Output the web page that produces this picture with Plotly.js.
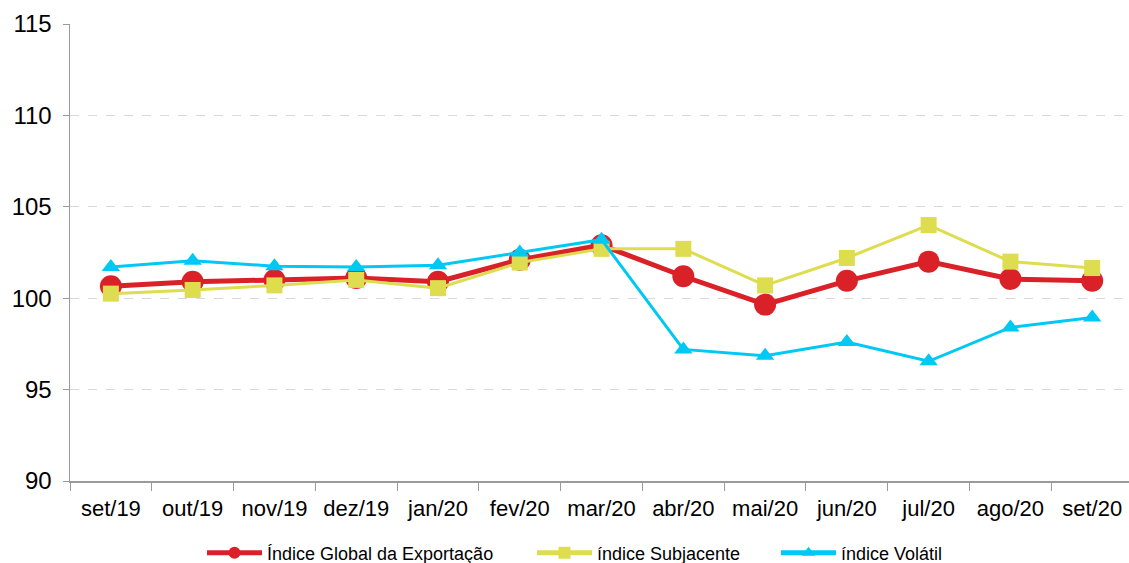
<!DOCTYPE html>
<html>
<head>
<meta charset="utf-8">
<script src="https://cdn.plot.ly/plotly-3.0.1.min.js"></script>
<style>html,body{margin:0;padding:0;background:#fff;}#chart{width:1129px;height:563px;}</style>
</head>
<body>
<div id="chart"></div>
<script>
const categories = ["set/19","out/19","nov/19","dez/19","jan/20","fev/20","mar/20","abr/20","mai/20","jun/20","jul/20","ago/20","set/20"];
const globalIdx = [100.65,100.9,101.0,101.1,100.9,102.1,102.9,101.2,99.65,100.95,102.0,101.05,100.95];
const subjacente = [100.25,100.45,100.7,101.0,100.55,101.95,102.7,102.7,100.7,102.2,104.0,102.0,101.65];
const volatil = [101.7,102.05,101.75,101.7,101.8,102.5,103.2,97.2,96.85,97.6,96.55,98.4,98.95];
const names = ["Índice Global da Exportação","índice Subjacente","índice Volátil"];

const traces = [
  {x: categories, y: globalIdx, name: names[0], type: 'scatter', mode: 'lines+markers', legend: 'legend',
   line: {color: '#DA2128', width: 5}, marker: {symbol: 'circle', size: 22, color: '#DA2128'}},
  {x: categories, y: subjacente, name: names[1], type: 'scatter', mode: 'lines+markers', legend: 'legend2',
   line: {color: '#DDDD4F', width: 3}, marker: {symbol: 'square', size: 16, color: '#DDDD4F'}},
  {x: categories, y: volatil, name: names[2], type: 'scatter', mode: 'lines+markers', legend: 'legend3',
   line: {color: '#00C8F4', width: 3}, marker: {symbol: 'triangle-up', size: 16, color: '#00C8F4'}}
];

function leg(xpx) {
  return {orientation: 'h', x: xpx / 1129, xanchor: 'left', xref: 'container',
          y: 0.0178, yanchor: 'middle', yref: 'container',
          font: {size: 18, color: '#000'}, itemsizing: 'constant', itemwidth: 55,
          bgcolor: 'rgba(0,0,0,0)'};
}

const layout = {
  width: 1129, height: 563,
  margin: {l: 70, r: 0, t: 24, b: 82},
  paper_bgcolor: '#fff', plot_bgcolor: '#fff',
  font: {family: 'Liberation Sans, Arial, sans-serif', color: '#000'},
  showlegend: true,
  legend: leg(202),
  legend2: leg(532),
  legend3: leg(776),
  xaxis: {type: 'category', range: [-0.5, 12.45], showgrid: false, showline: true, automargin: false,
          linecolor: '#9a9a9a', linewidth: 1.5, ticks: 'outside', tickson: 'boundaries',
          ticklen: 8, tickcolor: '#9a9a9a', tickfont: {size: 22}, zeroline: false, ticklabelstandoff: 7},
  yaxis: {range: [90, 115], dtick: 5, tick0: 90, showgrid: true, gridcolor: '#d9d9d9', automargin: false,
          griddash: 'dash', gridwidth: 1, showline: true, linecolor: '#9a9a9a', linewidth: 1.5,
          ticks: 'outside', ticklen: 6, tickcolor: '#9a9a9a', tickfont: {size: 24},
          zeroline: false, ticklabelstandoff: 6}
};

Plotly.newPlot('chart', traces, layout, {displayModeBar: false, staticPlot: true});
</script>
</body>
</html>
